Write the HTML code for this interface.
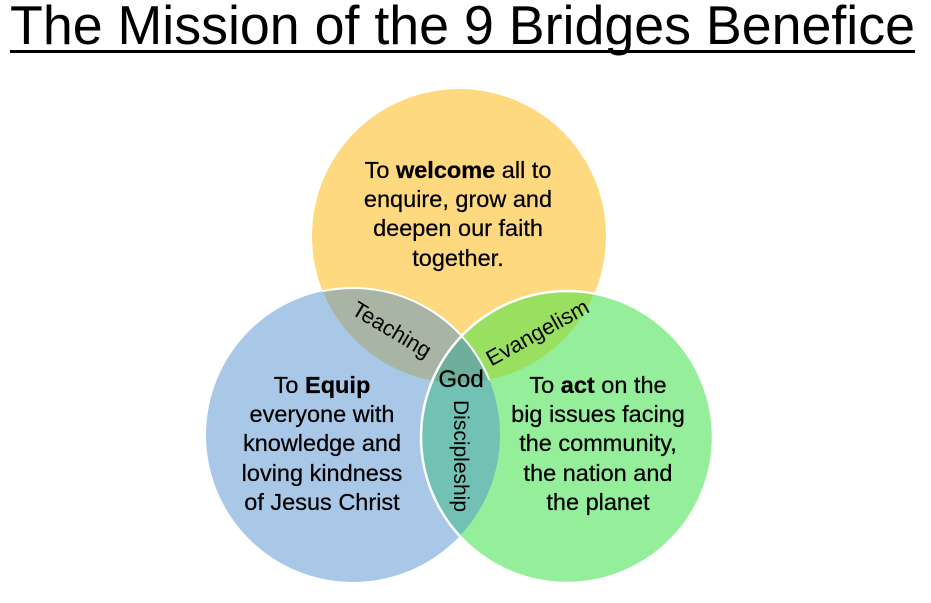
<!DOCTYPE html>
<html><head><meta charset="utf-8"><style>
html,body{margin:0;padding:0;background:#fff;}
svg{display:block;}
.t{font-family:"Liberation Sans",sans-serif;font-size:23.5px;fill:#000;text-anchor:middle;stroke:#000;stroke-width:0.25;}
.l{font-family:"Liberation Sans",sans-serif;fill:#000;text-anchor:middle;}
</style></head><body>
<svg width="931" height="603" viewBox="0 0 931 603" xmlns="http://www.w3.org/2000/svg">
<defs>
<clipPath id="cy"><circle cx="459" cy="236" r="147"/></clipPath>
<clipPath id="cb"><circle cx="353" cy="435" r="147"/></clipPath>
<clipPath id="cg"><circle cx="567" cy="437" r="146"/></clipPath>
<clipPath id="notblue"><path d="M0,0H931V603H0Z M206,435a147,147 0 1,0 294,0a147,147 0 1,0 -294,0Z" clip-rule="evenodd"/></clipPath>
</defs>
<text x="10" y="44" font-family="Liberation Sans, sans-serif" font-size="55" textLength="905" lengthAdjust="spacingAndGlyphs">The Mission of the 9 Bridges Benefice</text>
<rect x="10" y="50" width="905" height="3" fill="#000"/>
<circle cx="459" cy="236" r="147" fill="#FFD97F"/>
<circle cx="353" cy="435" r="147" fill="#A9C8E8"/>
<circle cx="567" cy="437" r="146" fill="#95EE99"/>
<g clip-path="url(#cy)"><circle cx="353" cy="435" r="147" fill="#A8B4A4"/><circle cx="567" cy="437" r="146" fill="#99E060"/></g>
<g clip-path="url(#cb)"><circle cx="567" cy="437" r="146" fill="#71C2B4"/></g>
<g clip-path="url(#cb)"><g clip-path="url(#cy)"><circle cx="567" cy="437" r="146" fill="#6DAF9A"/></g></g>
<g clip-path="url(#cy)"><circle cx="353" cy="435" r="147" fill="none" stroke="#fff" stroke-width="2"/></g>
<g clip-path="url(#notblue)"><circle cx="567" cy="437" r="146" fill="none" stroke="#fff" stroke-width="2.5"/></g>
<g clip-path="url(#cb)"><circle cx="567" cy="437" r="146" fill="none" stroke="#fff" stroke-width="2.5"/></g>
<text class="t" x="458" y="178">To <tspan font-weight="bold">welcome</tspan> all to</text>
<text class="t" x="458" y="207">enquire, grow and</text>
<text class="t" x="458" y="236">deepen our faith</text>
<text class="t" x="458" y="266">together.</text>
<text class="t" x="322" y="393">To <tspan font-weight="bold">Equip</tspan></text>
<text class="t" x="322" y="422">everyone with</text>
<text class="t" x="322" y="451">knowledge and</text>
<text class="t" x="322" y="481">loving kindness</text>
<text class="t" x="322" y="510">of Jesus Christ</text>
<text class="t" x="598" y="393">To <tspan font-weight="bold">act</tspan> on the</text>
<text class="t" x="598" y="422">big issues facing</text>
<text class="t" x="598" y="451">the community,</text>
<text class="t" x="598" y="481">the nation and</text>
<text class="t" x="598" y="510">the planet</text>
<text class="l" font-size="22" transform="translate(388,336) rotate(31)">Teaching</text>
<text class="l" font-size="22" transform="translate(541,339) rotate(-29)">Evangelism</text>
<text class="l" font-size="24" x="461" y="387" stroke="#000" stroke-width="0.25">God</text>
<text class="l" font-size="21" transform="translate(454,456) rotate(90)">Discipleship</text>
</svg>
</body></html>
